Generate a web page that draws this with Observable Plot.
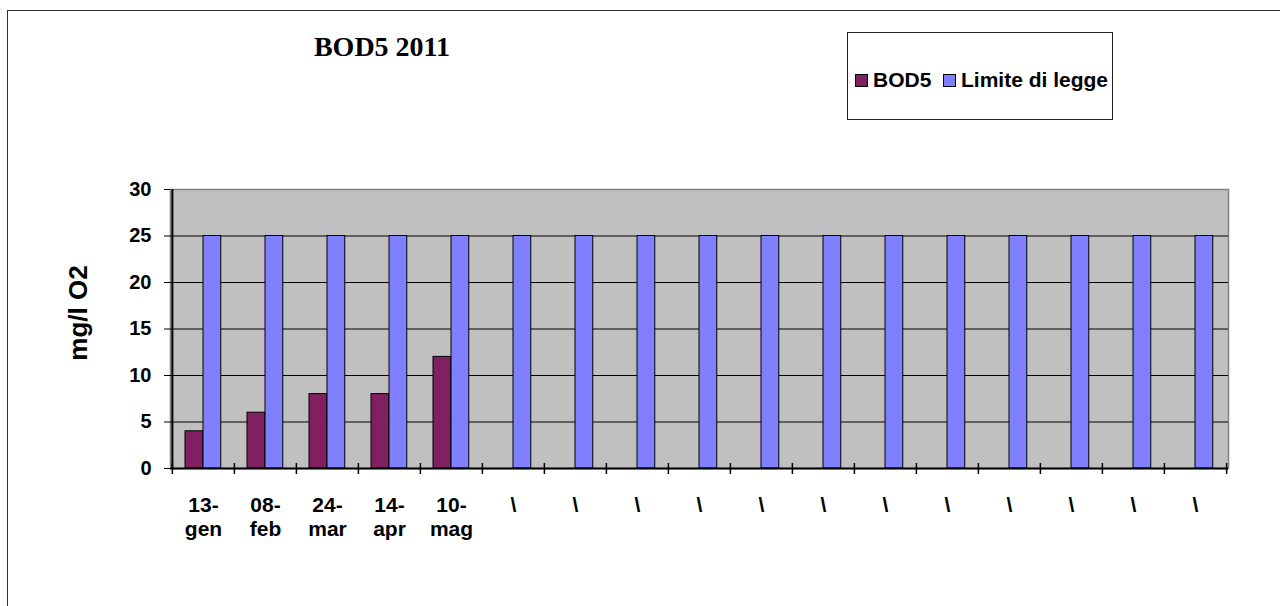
<!DOCTYPE html>
<html>
<head>
<meta charset="utf-8">
<script src="https://cdn.jsdelivr.net/npm/d3@7"></script>
<script src="https://cdn.jsdelivr.net/npm/@observablehq/plot@0.6"></script>
<style>
  html, body { margin: 0; padding: 0; background: #fff; }
  #wrap { position: relative; width: 1280px; height: 606px; overflow: hidden; font-family: "Liberation Sans", Arial, sans-serif; }
  #outer { position: absolute; left: 7px; top: 10px; width: 1400px; height: 800px; border: 1.5px solid #333; box-sizing: border-box; }
  #title { position: absolute; left: 250px; width: 264px; top: 31px; text-align: center; font-family: "Liberation Serif", "Times New Roman", serif; font-weight: bold; font-size: 28px; line-height: 32px; white-space: nowrap; }
  #legend { position: absolute; left: 847px; top: 32px; width: 266px; height: 88px; border: 1.5px solid #222; box-sizing: border-box; font-weight: bold; font-size: 21px; }
  .item { position: absolute; top: 35px; display: flex; align-items: center; white-space: nowrap; line-height: 24px; }
  .sw { width: 11px; height: 11px; border: 1px solid #000; margin-right: 5px; }
  #chart { position: absolute; left: 0; top: 0; }
  #chart svg text { font-weight: bold; }
  #ylabel { position: absolute; left: 78px; top: 313px; transform: translate(-50%, -50%) rotate(-90deg); font-weight: bold; font-size: 26px; white-space: nowrap; line-height: 30px; }
</style>
</head>
<body>
<div id="wrap">
  <div id="outer"></div>
  <div id="title">BOD5 2011</div>
  <div id="legend"></div>
  <div id="chart"></div>
  <div id="ylabel"></div>
</div>
<script>
const categories = ["13-\ngen", "08-\nfeb", "24-\nmar", "14-\napr", "10-\nmag",
  "\\", "\\", "\\", "\\", "\\", "\\", "\\", "\\", "\\", "\\", "\\", "\\"];
const bod5 = [4, 6, 8, 8, 12, null, null, null, null, null, null, null, null, null, null, null, null];
const limite = [25, 25, 25, 25, 25, 25, 25, 25, 25, 25, 25, 25, 25, 25, 25, 25, 25];
const seriesNames = ["BOD5", "Limite di legge"];
const seriesColors = ["#802060", "#8080FF"];
const yTicks = [0, 5, 10, 15, 20, 25, 30];
const yLabel = "mg/l O2";

const rows = categories.map((c, i) => ({i, label: c, bod5: bod5[i], limite: limite[i]}));

document.getElementById("ylabel").textContent = yLabel;

// legend
const legend = document.getElementById("legend");
const legendX = [7, 95];
seriesNames.forEach((n, k) => {
  const it = document.createElement("div");
  it.className = "item";
  it.style.left = legendX[k] + "px";
  it.innerHTML = `<span class="sw" style="background:${seriesColors[k]}"></span><span>${n}</span>`;
  legend.appendChild(it);
});

const W = 1280, H = 606;
const mL = 170, mR = 52, mT = 189, mB = 138;
const step = (W - mL - mR) / categories.length;
const half = step / 2;
const gap = 13, barW = 18;

const chart = Plot.plot({
  width: W,
  height: H,
  marginLeft: mL,
  marginRight: mR,
  marginTop: mT,
  marginBottom: mB,
  style: {background: "transparent", fontFamily: "'Liberation Sans', Arial, sans-serif", fontSize: "20px", color: "#000"},
  x: {type: "band", domain: rows.map(d => d.i), padding: 0, axis: null, label: null},
  y: {domain: [0, 30], axis: null, label: null},
  marks: [
    Plot.frame({fill: "#C0C0C0", stroke: "#808080", strokeWidth: 1.5}),
    Plot.ruleY(yTicks.filter(t => t > 0 && t < 30), {stroke: "#000", strokeWidth: 1.2}),
    Plot.barY(rows.filter(d => d.bod5 != null), {x: "i", y: "bod5", fill: seriesColors[0], stroke: "#000", strokeWidth: 1, insetLeft: gap, insetRight: step - gap - barW}),
    Plot.barY(rows, {x: "i", y: "limite", fill: seriesColors[1], stroke: "#000", strokeWidth: 1, insetLeft: gap + barW, insetRight: step - gap - 2 * barW}),
    Plot.ruleY([0], {stroke: "#000", strokeWidth: 2}),
    Plot.ruleX([0], {x: d => d, dx: -half, stroke: "#000", strokeWidth: 2}),
    Plot.ruleX(rows, {x: "i", y1: 0, y2: 0, dx: -half, insetTop: -5, insetBottom: -6, stroke: "#000", strokeWidth: 1.5}),
    Plot.ruleX([rows.length - 1], {x: d => d, y1: 0, y2: 0, dx: half, insetTop: -5, insetBottom: -6, stroke: "#000", strokeWidth: 1.5}),
    Plot.axisY({ticks: yTicks, tickSize: 6, tickPadding: 13, tickStroke: "#000", fontSize: 20, fontWeight: "bold", label: null}),
    Plot.axisX({tickSize: 0, tickPadding: 26, tickFormat: i => categories[i], fontSize: 21, fontWeight: "bold", lineHeight: 1.15, label: null})
  ]
});
document.getElementById("chart").appendChild(chart);
</script>
</body>
</html>
